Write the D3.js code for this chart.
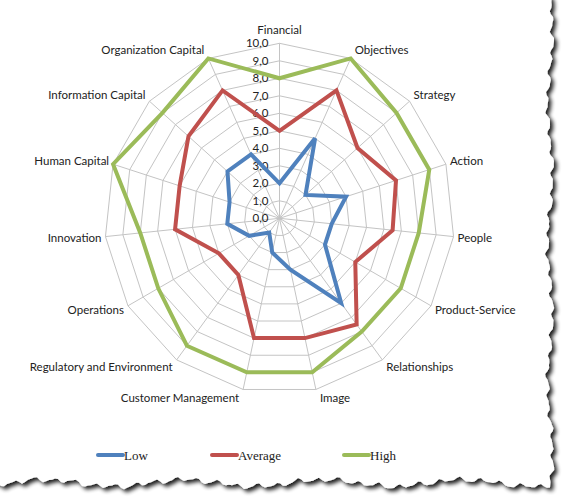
<!doctype html>
<html lang="en">
<head>
<meta charset="utf-8">
<title>Radar</title>
<script src="https://d3js.org/d3.v7.min.js"></script>
<style>
  body { margin: 0; background: #fff; }
  .grid { fill: none; stroke: #c4c4c4; stroke-width: 1; }
  .axis-label { font-family: Lato, "Open Sans", sans-serif; font-size: 11.5px; fill: #222; }
  .tick-label { font-family: Lato, "Open Sans", sans-serif; font-size: 11.5px; fill: #222; }
  .legend-label { font-family: "Liberation Serif", "DejaVu Serif", serif; font-size: 13px; fill: #222; }
</style>
</head>
<body>
<div id="chart"></div>
<script>
var categories = ["Financial", "Objectives", "Strategy", "Action", "People",
  "Product-Service", "Relationships", "Image", "Customer Management",
  "Regulatory and Environment", "Operations", "Innovation", "Human Capital",
  "Information Capital", "Organization Capital"];
var lowValues     = [2, 5, 2, 4, 3,   3, 6,   3, 2, 1, 2, 3, 3, 4, 4];
var averageValues = [5, 8, 6, 7, 6.5, 5, 7.5, 7, 7, 4, 4, 6, 6, 7, 8];
var highValues    = [8, 10, 9, 9, 8,  8, 8,   9, 9, 9, 8, 8, 10, 9, 10];
var tickValues = [0, 1, 2, 3, 4, 5, 6, 7, 8, 9, 10];
var tickLabels = ["0,0", "1,0", "2,0", "3,0", "4,0", "5,0", "6,0", "7,0", "8,0", "9,0", "10,0"];
var seriesNames = ["Low", "Average", "High"];
var seriesColors = ["#4f81bd", "#c0504d", "#9bbb59"];

var width = 568, height = 500;
var cx = 279.5, cy = 218.3, R = 175;

var svg = d3.select("#chart").append("svg")
    .attr("width", width)
    .attr("height", height);

// torn paper edge with a drop shadow
var defs = svg.append("defs");
var f = defs.append("filter").attr("id", "shadow")
    .attr("x", "-5%").attr("y", "-5%").attr("width", "115%").attr("height", "115%");
f.append("feGaussianBlur").attr("in", "SourceAlpha").attr("stdDeviation", 2.2).attr("result", "b");
f.append("feOffset").attr("in", "b").attr("dx", 2.5).attr("dy", 3).attr("result", "o");
f.append("feComponentTransfer").attr("in", "o").attr("result", "s")
  .append("feFuncA").attr("type", "linear").attr("slope", 0.9);
var fm = f.append("feMerge");
fm.append("feMergeNode").attr("in", "s");
fm.append("feMergeNode").attr("in", "SourceGraphic");

function jag(t, a, b, c) {
  return a * Math.sin(t * 0.045) + b * Math.sin(t * 0.31 + 1.3) + c * Math.sin(t * 1.7 + 0.4) * Math.sin(t * 0.23);
}
var edge = [[-10, -10]];
for (var y = -10; y <= 482; y += 3) {
  edge.push([550 + jag(y, 2.5, 1.6, 1.4), y]);
}
for (var x = 550; x >= -10; x -= 3) {
  edge.push([x, 483 + jag(x + 200, 3.5, 2, 1.6)]);
}
svg.append("path")
    .attr("d", d3.line()(edge) + "Z")
    .attr("fill", "#fff")
    .attr("filter", "url(#shadow)");

var r = d3.scaleLinear().domain([0, 10]).range([0, R]);
var n = categories.length;
var angle = function(i) { return i * 2 * Math.PI / n; };

var g = svg.append("g").attr("transform", "translate(" + cx + "," + cy + ")");

// rings
var ring = d3.lineRadial()
    .angle(function(d, i) { return angle(i); })
    .radius(function(d) { return r(d); })
    .curve(d3.curveLinearClosed);

g.selectAll(".ring").data(tickValues.slice(1)).enter()
  .append("path")
    .attr("class", "grid")
    .attr("d", function(v) { return ring(categories.map(function() { return v; })); });

// spokes
g.selectAll(".spoke").data(categories).enter()
  .append("line")
    .attr("class", "grid")
    .attr("x1", 0).attr("y1", 0)
    .attr("x2", function(d, i) { return r(10) * Math.sin(angle(i)); })
    .attr("y2", function(d, i) { return -r(10) * Math.cos(angle(i)); });

// tick labels
g.selectAll(".tick-label").data(tickValues).enter()
  .append("text")
    .attr("class", "tick-label")
    .attr("x", -11)
    .attr("y", function(v) { return -r(v); })
    .attr("dy", "0.35em")
    .attr("text-anchor", "end")
    .text(function(v, i) { return tickLabels[i]; });

// category labels
g.selectAll(".axis-label").data(categories).enter()
  .append("text")
    .attr("class", "axis-label")
    .attr("x", function(d, i) {
      var s = Math.sin(angle(i));
      return r(10) * s + (Math.abs(s) < 0.05 ? 0 : (s > 0 ? 4 : -4));
    })
    .attr("y", function(d, i) {
      var c = Math.cos(angle(i));
      var y = -r(10) * c - 9 * c;
      if (i === 0) y = -r(10) - 13;
      return y;
    })
    .attr("dy", "0.35em")
    .attr("text-anchor", function(d, i) {
      var s = Math.sin(angle(i));
      return Math.abs(s) < 0.05 ? "middle" : (s > 0 ? "start" : "end");
    })
    .text(function(d) { return d; });

// series
var series = [lowValues, averageValues, highValues];
g.selectAll(".series").data(series).enter()
  .append("path")
    .attr("d", function(d) { return ring(d); })
    .attr("fill", "none")
    .attr("stroke", function(d, i) { return seriesColors[i]; })
    .attr("stroke-width", 4)
    .attr("stroke-linejoin", "miter");

// legend
var legendX = [98, 212, 344];
var legend = svg.selectAll(".legend").data(seriesNames).enter()
  .append("g")
    .attr("transform", function(d, i) { return "translate(" + legendX[i] + ",455)"; });
legend.append("line")
    .attr("x1", 0).attr("x2", 25)
    .attr("stroke", function(d, i) { return seriesColors[i]; })
    .attr("stroke-width", 4)
    .attr("stroke-linecap", "round");
legend.append("text")
    .attr("class", "legend-label")
    .attr("x", 26)
    .attr("dy", "0.35em")
    .text(function(d) { return d; });
</script>
</body>
</html>
